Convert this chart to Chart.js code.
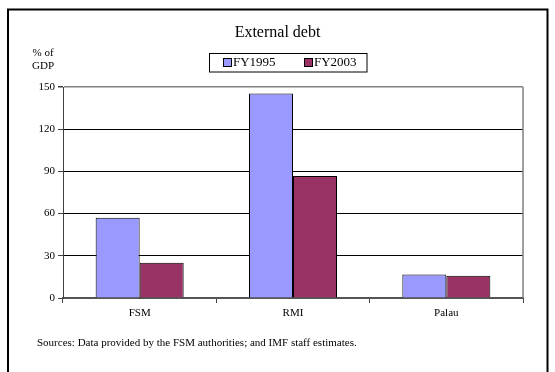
<!DOCTYPE html>
<html>
<head>
<meta charset="utf-8">
<script src="https://cdn.jsdelivr.net/npm/chart.js@4/dist/chart.umd.min.js"></script>
<style>
  html, body { margin: 0; padding: 0; background: #fff; }
  #wrap { width: 555px; height: 372px; }
</style>
</head>
<body>
<div id="wrap"><canvas id="c" width="555" height="372"></canvas></div>
<script>
// External debt, percent of GDP
const categories = ['FSM', 'RMI', 'Palau'];
const fy1995 = [57.1, 145.3, 16.7];
const fy2003 = [25.0, 86.7, 15.8];
const seriesLabels = ['FY1995', 'FY2003'];
const yTicks = [0, 30, 60, 90, 120, 150];
const titleText = 'External debt';
const unitLines = ['% of', 'GDP'];
const sourceText = 'Sources: Data provided by the FSM authorities; and IMF staff estimates.';

const SERIF = '"Liberation Serif", "Times New Roman", serif';
const colors = ['#9999FF', '#993366'];

// Frame, title, unit label, boxed legend, source note and plot-area edge
const decorations = {
  id: 'decorations',
  afterDraw(chart) {
    const ctx = chart.ctx;
    const area = chart.chartArea;
    ctx.save();

    // plot-area right edge
    ctx.strokeStyle = '#808080';
    ctx.lineWidth = 1.5;
    ctx.beginPath();
    ctx.moveTo(area.right, area.top);
    ctx.lineTo(area.right, area.bottom);
    ctx.stroke();

    // outer frame
    ctx.strokeStyle = '#000';
    ctx.lineWidth = 2;
    ctx.strokeRect(8, 9.5, 539.5, 380);

    // title
    ctx.fillStyle = '#000';
    ctx.textBaseline = 'middle';
    ctx.textAlign = 'center';
    ctx.font = '16px ' + SERIF;
    ctx.fillText(titleText, 277.5, 33);

    // unit label
    ctx.font = '11px ' + SERIF;
    ctx.fillText(unitLines[0], 43, 53);
    ctx.fillText(unitLines[1], 43, 66.5);

    // legend box
    ctx.lineWidth = 1;
    ctx.strokeRect(209.5, 53.5, 157.5, 18.5);
    ctx.font = '13px ' + SERIF;
    ctx.textAlign = 'left';
    const items = chart.data.datasets;
    const xs = [223, 304];
    items.forEach((ds, i) => {
      ctx.fillStyle = ds.backgroundColor;
      ctx.fillRect(xs[i] + 0.5, 58.5, 8, 8);
      ctx.strokeStyle = '#000';
      ctx.strokeRect(xs[i] + 0.5, 58.5, 8, 8);
      ctx.fillStyle = '#000';
      ctx.fillText(ds.label, xs[i] + 10, 63);
    });

    // source note
    ctx.font = '11px ' + SERIF;
    ctx.fillText(sourceText, 37, 343);
    ctx.restore();
  }
};

new Chart(document.getElementById('c'), {
  type: 'bar',
  data: {
    labels: categories,
    datasets: [
      { label: seriesLabels[0], data: fy1995, backgroundColor: colors[0], borderColor: '#000', borderWidth: 1 },
      { label: seriesLabels[1], data: fy2003, backgroundColor: colors[1], borderColor: '#000', borderWidth: 1 }
    ]
  },
  options: {
    responsive: false,
    animation: false,
    devicePixelRatio: 1,
    layout: { padding: { top: 87, right: 32, left: 0, bottom: 0 } },
    datasets: { bar: { categoryPercentage: 0.574, barPercentage: 1.0 } },
    plugins: {
      legend: { display: false },
      title: { display: false },
      tooltip: { enabled: false }
    },
    scales: {
      x: {
        afterFit(scale) { scale.height = 74; },
        grid: {
          offset: true,
          drawOnChartArea: false,
          tickLength: 5,
          tickColor: '#404040',
          lineWidth: 1
        },
        border: { color: '#555', width: 2 },
        ticks: {
          color: '#000',
          padding: 4,
          font: { family: SERIF, size: 11 }
        }
      },
      y: {
        min: 0,
        max: 150,
        afterFit(scale) { scale.width = 63; },
        afterBuildTicks(scale) { scale.ticks = yTicks.map(v => ({ value: v })); },
        grid: {
          color: (c) => (c.tick && c.tick.value === 150) ? '#808080' : '#000',
          lineWidth: (c) => (c.tick && c.tick.value === 150) ? 1.5 : 1,
          tickLength: 5,
          tickColor: '#404040'
        },
        border: { color: '#404040', width: 1 },
        ticks: {
          color: '#000',
          padding: 3,
          font: { family: SERIF, size: 11 }
        }
      }
    }
  },
  plugins: [decorations]
});
</script>
</body>
</html>
